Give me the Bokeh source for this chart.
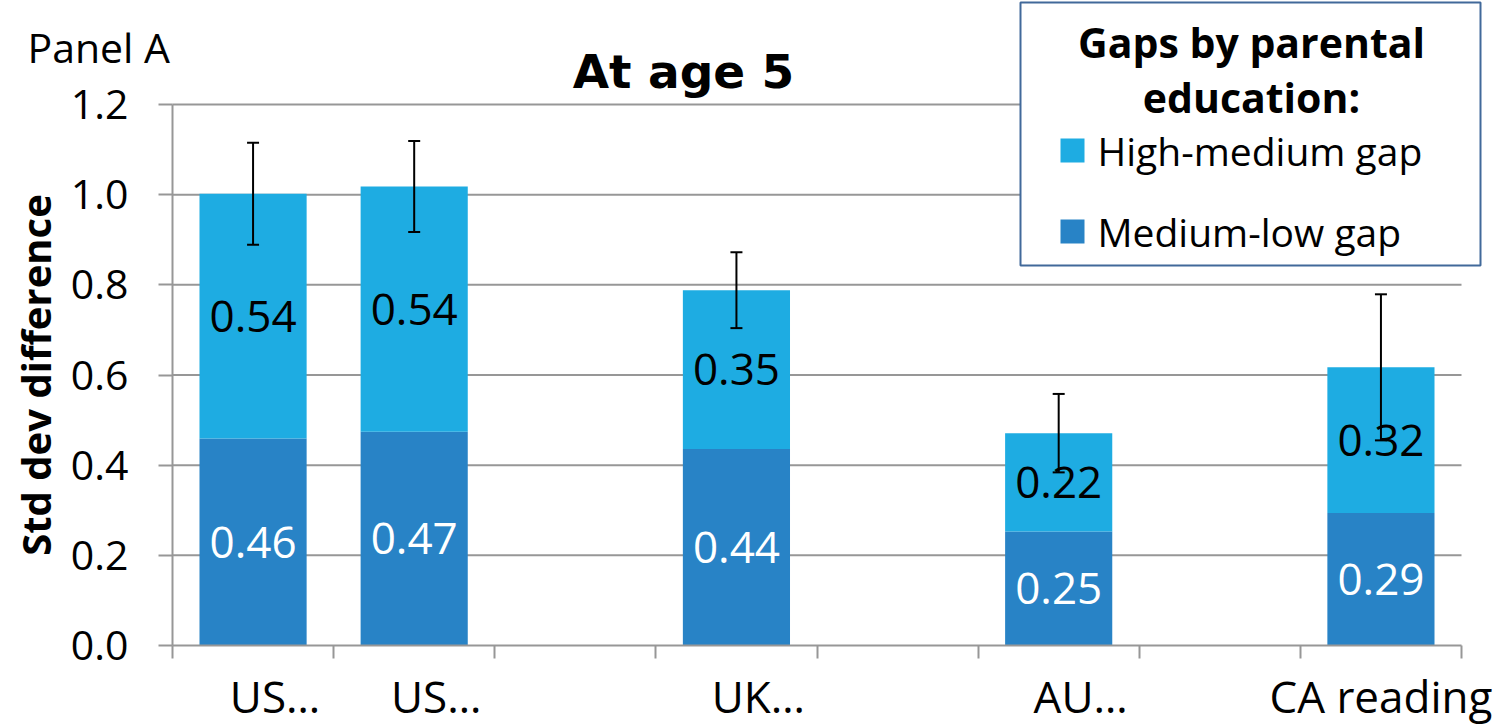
import numpy as np
from bokeh.plotting import figure
from bokeh.models import (ColumnDataSource, Whisker, TeeHead, FixedTicker, Label,
                          BoxAnnotation, Range1d)
from bokeh.core.properties import value
from bokeh.embed import file_html
from bokeh.resources import INLINE

# ---------------- data ----------------
categories = ["US…", "US…", "", "UK…", "", "AU…", "", "CA reading"]
medium_low = [0.459, 0.474, None, 0.436, None, 0.253, None, 0.294]
high_medium = [0.543, 0.544, None, 0.352, None, 0.218, None, 0.323]
error_half = [0.113, 0.101, None, 0.084, None, 0.087, None, 0.162]
y_ticks = [0.0, 0.2, 0.4, 0.6, 0.8, 1.0, 1.2]
y_tick_labels = ["0.0", "0.2", "0.4", "0.6", "0.8", "1.0", "1.2"]
legend_title = ["Gaps by parental", "education:"]
legend_labels = ["High-medium gap", "Medium-low gap"]
title_text = "At age 5"
panel_text = "Panel A"
y_label = "Std dev difference"

LIGHT = "#1EACE2"
DARK = "#2883C6"
GRID = "#979797"
FONT = "Open Sans"

# ---------------- derived ----------------
n = len(categories)
slot = np.arange(n) + 0.5
keep = [v is not None for v in medium_low]
xs = slot[keep]
low = np.array([v for v in medium_low if v is not None])
high = np.array([v for v in high_medium if v is not None])
err = np.array([v for v in error_half if v is not None])
tot = low + high

src = ColumnDataSource(dict(
    x=xs, low=low, tot=tot,
    low_mid=low / 2, high_mid=low + high / 2,
    low_lbl=[f"{v:.2f}" for v in low], high_lbl=[f"{v:.2f}" for v in high],
    upper=tot + err, lower=tot - err,
))

W, H = 1499, 725
YMAX = y_ticks[-1]
# plot area in page px: x 172..1461 for the 8 slots, y 645..104 for 0..1.2
FX0, FX1, FY0, FY1 = 172, 1461, 645, 104


def dx(px):
    return (px - FX0) / ((FX1 - FX0) / n)


def dy(py):
    return (FY0 - py) / ((FY0 - FY1) / YMAX)


p = figure(width=W, height=H, x_range=Range1d(dx(0), dx(W)), y_range=Range1d(dy(H), dy(0)),
           output_backend="svg", toolbar_location=None,
           min_border_left=0, min_border_right=0, min_border_top=0, min_border_bottom=0)
p.outline_line_color = None
p.background_fill_color = "white"
p.border_fill_color = "white"
p.xgrid.visible = False
p.ygrid.visible = False

# horizontal gridlines over the category span
grid_ticks = y_ticks[1:]
p.segment(x0=[0] * len(grid_ticks), x1=[n] * len(grid_ticks), y0=grid_ticks, y1=grid_ticks,
          line_color=GRID, line_width=2, level="underlay")

BAR_W = 0.665
p.vbar(x="x", bottom=0, top="low", width=BAR_W, fill_color=DARK, line_color=None, source=src)
p.vbar(x="x", bottom="low", top="tot", width=BAR_W, fill_color=LIGHT, line_color=None, source=src)

p.text(x="x", y="high_mid", text="high_lbl", text_font=value(FONT), text_font_size="44px",
       text_align="center", text_baseline="middle", text_color="black", source=src)
p.text(x="x", y="low_mid", text="low_lbl", text_font=value(FONT), text_font_size="44px",
       text_align="center", text_baseline="middle", text_color="white", source=src)

w = Whisker(base="x", upper="upper", lower="lower", source=src, line_color="black", line_width=2,
            upper_head=TeeHead(size=12, line_width=2, line_color="black"),
            lower_head=TeeHead(size=12, line_width=2, line_color="black"))
w.level = "overlay"
p.add_layout(w)

# x axis: boundary ticks (minor) and category labels (major, invisible tick marks).
# Truncated labels ("…") sit slightly right of the slot centre, as in the original.
trunc_shift = 22 / ((FX1 - FX0) / n)
label_pos = [round(float(s) + (trunc_shift if c.endswith("…") else 0.0), 4)
             for s, c in zip(slot, categories)]
xa = p.xaxis[0]
xa.fixed_location = 0
xa.bounds = (0, n)
xa.ticker = FixedTicker(ticks=label_pos, minor_ticks=list(range(n + 1)))
xa.major_label_overrides = {pos: c for pos, c in zip(label_pos, categories)}
xa.major_tick_out = 0
xa.major_tick_in = 0
xa.minor_tick_out = 13
xa.minor_tick_in = 0
xa.minor_tick_line_color = GRID
xa.minor_tick_line_width = 2
xa.axis_line_color = GRID
xa.axis_line_width = 2
xa.major_label_text_font = FONT
xa.major_label_text_font_size = "44px"
xa.major_label_text_color = "black"
xa.major_label_standoff = 7

ya = p.yaxis[0]
ya.fixed_location = 0
ya.bounds = (0, YMAX)
ya.ticker = FixedTicker(ticks=y_ticks, minor_ticks=[])
ya.major_label_overrides = {t: l for t, l in zip(y_ticks, y_tick_labels)}
ya.major_tick_out = 14
ya.major_tick_in = 0
ya.major_tick_line_color = GRID
ya.major_tick_line_width = 2
ya.minor_tick_out = 0
ya.minor_tick_in = 0
ya.axis_line_color = GRID
ya.axis_line_width = 2
ya.major_label_text_font = FONT
ya.major_label_text_font_size = "41px"
ya.major_label_text_color = "black"
ya.major_label_standoff = 30

# y axis title (rotated label, centred on the value axis)
p.add_layout(Label(x=dx(35), y=YMAX / 2, text=y_label, angle=np.pi / 2, text_font=FONT,
                   text_font_style="bold", text_font_size="40px", text_color="black",
                   text_align="center", text_baseline="middle"))

# texts
p.add_layout(Label(x=dx(27), y=dy(46), text=panel_text, text_font=FONT, text_font_size="41px",
                   text_color="black", text_align="left", text_baseline="alphabetic"))
p.add_layout(Label(x=dx(683), y=dy(71), text=title_text, text_font="DejaVu Sans",
                   text_font_style="bold", text_font_size="47px", text_color="black",
                   text_align="center", text_baseline="alphabetic"))

# legend box
box = BoxAnnotation(left=dx(1020), right=dx(1480), top=dy(2), bottom=dy(265),
                    fill_color="white", fill_alpha=1.0, line_color="#41699A", line_alpha=1.0,
                    line_width=2, level="overlay")
p.add_layout(box)
for i, line in enumerate(legend_title):
    p.add_layout(Label(x=dx(1251), y=dy(41 + 55 * i), text=line, text_font=FONT,
                       text_font_style="bold", text_font_size="41px", text_color="black",
                       text_align="center", text_baseline="alphabetic", level="overlay"))
for i, (lab, col) in enumerate(zip(legend_labels, [LIGHT, DARK])):
    cy = 150 + 81 * i
    p.add_layout(BoxAnnotation(left=dx(1060), right=dx(1084), top=dy(cy - 12), bottom=dy(cy + 12),
                               fill_color=col, fill_alpha=1.0, line_color=None, level="overlay"))
    p.add_layout(Label(x=dx(1097), y=dy(cy), text=lab, text_font=FONT, text_font_size="39px",
                       text_color="black", text_align="left", text_baseline="middle",
                       level="overlay"))

open("out.html", "w").write(file_html(p, INLINE))
